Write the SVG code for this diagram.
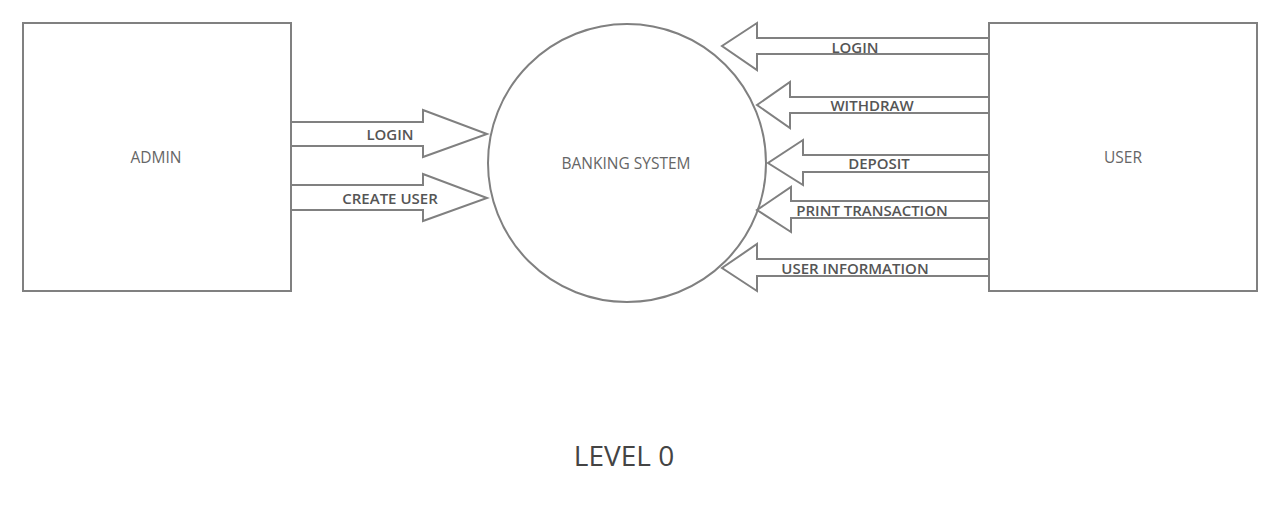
<svg xmlns="http://www.w3.org/2000/svg" width="1280" height="524" viewBox="0 0 1280 524">
<style>
.box{fill:#fff;stroke:#808080;stroke-width:2}
.arr{fill:#fff;stroke:#808080;stroke-width:2;stroke-linejoin:miter}
.lbl{font-family:"Open Sans","Noto Sans",sans-serif;font-size:15px;font-weight:600;fill:#555;text-anchor:middle}
.node{font-family:"Open Sans","Noto Sans",sans-serif;font-size:15.5px;fill:#666;text-anchor:middle}
</style>
<rect width="1280" height="524" fill="#fff"/>
<g id="admin"><rect class="box" x="23" y="23" width="268" height="268"/><text class="node" x="156" y="163">ADMIN</text></g>
<g id="user"><rect class="box" x="989" y="23" width="268" height="268"/><text class="node" x="1123" y="163">USER</text></g>
<g id="banking-system"><circle class="box" cx="627" cy="163" r="139"/><text class="node" x="626" y="169">BANKING SYSTEM</text></g>
<g id="connectors">
<polygon class="arr" points="291,122 423,122 423,110 487,134 423,157 423,146 291,146"/>
<polygon class="arr" points="291,185 423,185 423,174 487,198 423,221 423,210 291,210"/>
<polygon class="arr" points="989,38 757,38 757,23 722,46 757,70 757,54 989,54"/>
<polygon class="arr" points="989,97 790,97 790,82 757,105 790,128 790,113 989,113"/>
<polygon class="arr" points="989,155 803,155 803,140 768,163 803,185 803,172 989,172"/>
<polygon class="arr" points="989,201 791,201 791,187 757,210 791,232 791,218 989,218"/>
<polygon class="arr" points="989,259 757,259 757,244 722,268 757,291 757,276 989,276"/>
</g>
<g id="labels">
<text class="lbl" x="390" y="140">LOGIN</text>
<text class="lbl" x="390" y="204">CREATE USER</text>
<text class="lbl" x="855" y="53">LOGIN</text>
<text class="lbl" x="872" y="111">WITHDRAW</text>
<text class="lbl" x="879" y="169">DEPOSIT</text>
<text class="lbl" x="872" y="216">PRINT TRANSACTION</text>
<text class="lbl" x="855" y="274">USER INFORMATION</text>
</g>
<text x="624" y="466" font-family="'Open Sans','Noto Sans',sans-serif" font-size="28" fill="#444" text-anchor="middle">LEVEL 0</text>
</svg>
